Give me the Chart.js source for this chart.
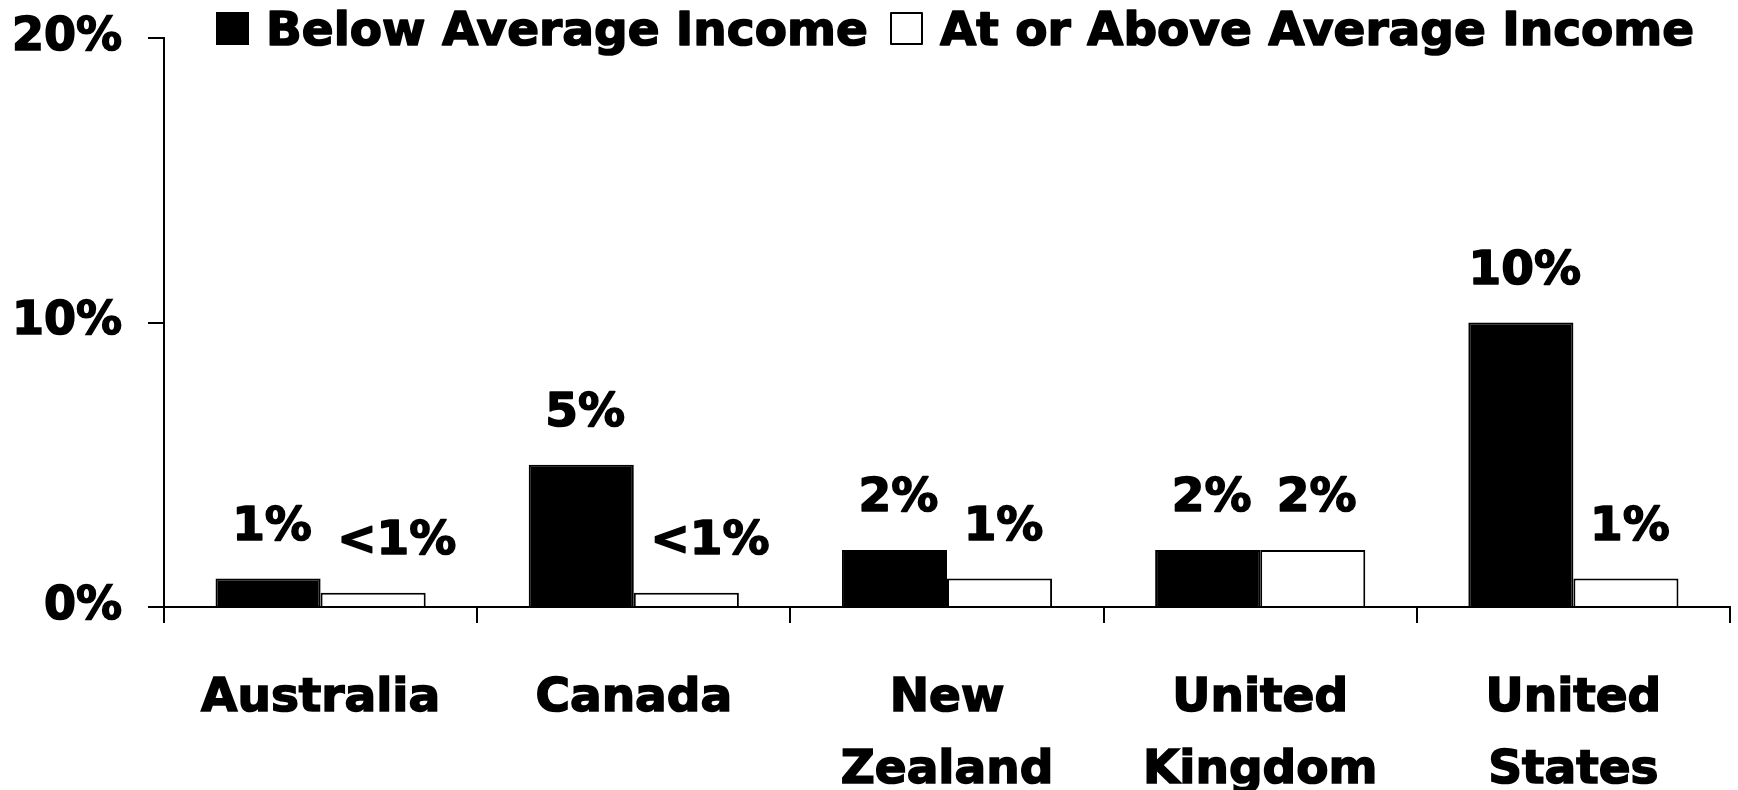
<!DOCTYPE html>
<html><head><meta charset="utf-8">
<script src="https://cdn.jsdelivr.net/npm/chart.js@4.4.0/dist/chart.umd.min.js"></script>
<style>html,body{margin:0;padding:0;background:#fff;}#wrap{width:1738px;height:790px;position:relative;}</style>
</head><body><div id="wrap"><canvas id="c"></canvas></div>
<script>
const categories = ['Australia', 'Canada', ['New', 'Zealand'], ['United', 'Kingdom'], ['United', 'States']];
const seriesNames = ['Below Average Income', 'At or Above Average Income'];
const belowAvg = [1, 5, 2, 2, 10];
const aboveAvg = [0.5, 0.5, 1, 2, 1];
const belowLabels = ['1%', '5%', '2%', '2%', '10%'];
const aboveLabels = ['<1%', '<1%', '1%', '2%', '1%'];
const yTicks = [0, 10, 20];
const yTickLabels = ['0%', '10%', '20%'];

const FONT = '"DejaVu Sans"';
const FS = 47;
const STROKE = 1.6;
Chart.defaults.font.family = FONT;
Chart.defaults.font.weight = 'bold';
Chart.defaults.font.size = FS;
Chart.defaults.color = '#000';

const valueLabels = [belowLabels, aboveLabels];

function heavyText(ctx, txt, x, y) {
  ctx.lineJoin = 'round';
  ctx.lineWidth = STROKE;
  ctx.strokeStyle = '#000';
  ctx.strokeText(txt, x, y);
  ctx.fillText(txt, x, y);
}

const barLabelPlugin = {
  id: 'barLabels',
  afterDatasetsDraw(chart) {
    const ctx = chart.ctx;
    ctx.save();
    ctx.font = 'bold ' + FS + 'px ' + FONT;
    ctx.fillStyle = '#000';
    ctx.textAlign = 'center';
    ctx.textBaseline = 'alphabetic';
    chart.data.datasets.forEach((ds, i) => {
      const meta = chart.getDatasetMeta(i);
      meta.data.forEach((el, j) => {
        const txt = valueLabels[i][j];
        // the number is centred on the bar; a "<" prefix hangs to the left
        let dx = 4;
        if (txt.charAt(0) === '<') dx += ctx.measureText('<').width / 2;
        heavyText(ctx, txt, el.x + dx, el.y - 39);
      });
    });
    ctx.restore();
  }
};

const legendPlugin = {
  id: 'customLegend',
  afterDraw(chart) {
    const ctx = chart.ctx;
    ctx.save();
    ctx.font = 'bold ' + FS + 'px ' + FONT;
    ctx.textBaseline = 'alphabetic';
    ctx.textAlign = 'left';
    const starts = [216, 890];
    const box = 33, top = 12, gap = 17;
    chart.data.datasets.forEach((ds, i) => {
      const x = starts[i];
      ctx.fillStyle = ds.backgroundColor;
      ctx.fillRect(x, top, box, box);
      ctx.strokeStyle = '#000';
      ctx.lineWidth = 2;
      ctx.strokeRect(x + 1, top + 1, box - 2, box - 2);
      ctx.fillStyle = '#000';
      heavyText(ctx, ds.label, x + box + gap, top + box);
    });
    ctx.restore();
  }
};

new Chart(document.getElementById('c'), {
  type: 'bar',
  data: {
    labels: categories,
    datasets: [
      { label: seriesNames[0], data: belowAvg, backgroundColor: '#000', borderColor: '#000', borderWidth: 2 },
      { label: seriesNames[1], data: aboveAvg, backgroundColor: '#fff', borderColor: '#000', borderWidth: 2 }
    ]
  },
  options: {
    responsive: true,
    maintainAspectRatio: false,
    animation: false,
    layout: { padding: { top: 0, right: 8, left: 0, bottom: 0 } },
    datasets: { bar: { categoryPercentage: 0.671, barPercentage: 1 } },
    plugins: { legend: { display: false }, tooltip: { enabled: false } },
    scales: {
      x: {
        offset: true,
        border: { display: true, color: '#000', width: 2 },
        grid: { offset: true, drawOnChartArea: false, drawTicks: true, tickLength: 16, color: '#000', lineWidth: 2 },
        ticks: { padding: 39, maxRotation: 0, autoSkip: false, textStrokeColor: '#000', textStrokeWidth: STROKE, font: { size: FS, weight: 'bold', lineHeight: 1.55 } },
        afterFit(scale) { scale.height = 183; }
      },
      y: {
        min: 0, max: 20,
        border: { display: true, color: '#000', width: 2 },
        grid: { drawOnChartArea: false, drawTicks: true, tickLength: 16, color: '#000', lineWidth: 2 },
        afterBuildTicks(scale) { scale.ticks = yTicks.map(v => ({ value: v })); },
        ticks: {
          padding: 26,
          textStrokeColor: '#000', textStrokeWidth: STROKE,
          font: { size: 46, weight: 'bold' },
          callback(v) { const k = yTicks.indexOf(v); return k >= 0 ? yTickLabels[k] : ''; }
        },
        afterFit(scale) { scale.width = 164; scale.paddingTop = 38; scale.paddingBottom = 0; }
      }
    }
  },
  plugins: [barLabelPlugin, legendPlugin]
});
</script>
</body></html>
